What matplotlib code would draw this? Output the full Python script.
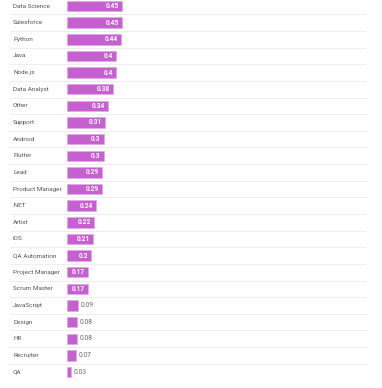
import matplotlib.pyplot as plt
from matplotlib.transforms import blended_transform_factory

categories = ["Data Science", "Salesforce", "Python", "Java", "Node.js",
              "Data Analyst", "Other", "Support", "Android", "Flutter", "Lead",
              "Product Manager", ".NET", "Artist", "iOS", "QA Automation",
              "Project Manager", "Scrum Master", "JavaScript", "Design", "HR",
              "Recruiter", "QA"]
values = [0.45, 0.45, 0.44, 0.4, 0.4, 0.38, 0.34, 0.31, 0.3, 0.3, 0.29, 0.29,
          0.24, 0.22, 0.21, 0.2, 0.17, 0.17, 0.09, 0.08, 0.08, 0.07, 0.03]
value_labels = ["0.45", "0.45", "0.44", "0.4", "0.4", "0.38", "0.34", "0.31",
                "0.3", "0.3", "0.29", "0.29", "0.24", "0.22", "0.21", "0.2",
                "0.17", "0.17", "0.09", "0.08", "0.08", "0.07", "0.03"]

W, H = 382, 388
px_per_unit = 122.0
x0_px = 67
row0_px = 6
pitch = 16.64

plt.rcParams["font.family"] = ["Roboto", "DejaVu Sans"]
fig = plt.figure(figsize=(W / 100, H / 100), dpi=100)
ax = fig.add_axes([0, 0, 1, 1])
ax.set_xlim(-x0_px / px_per_unit, (W - x0_px) / px_per_unit)
ax.set_ylim((H - row0_px) / pitch, -row0_px / pitch)
ax.axis("off")

ypos = list(range(len(categories)))
ax.barh(ypos, values, height=0.63, left=0, color="#c660d1",
        edgecolor="#e2a9e8", linewidth=0.6, zorder=2)

# row separators
for i in range(len(categories) - 1):
    ax.plot([(10 - x0_px) / px_per_unit, (366 - x0_px) / px_per_unit],
            [i + 0.5, i + 0.5], color="#eeeeee", lw=0.8, zorder=1)

trans = blended_transform_factory(fig.transFigure, ax.transData)
pad = 3 / px_per_unit
for y, cat, v, lab in zip(ypos, categories, values, value_labels):
    ax.text(13 / W, y, cat, transform=trans, ha="left", va="center",
            fontsize=4.6, color="#555555")
    if v >= 0.15:
        ax.text(v - pad, y, lab, ha="right", va="center", fontsize=4.8,
                color="white", fontweight="bold")
    else:
        ax.text(v + pad, y, lab, ha="left", va="center", fontsize=4.8,
                color="#666666")

fig.savefig("out.png", dpi=100)
plt.close(fig)
